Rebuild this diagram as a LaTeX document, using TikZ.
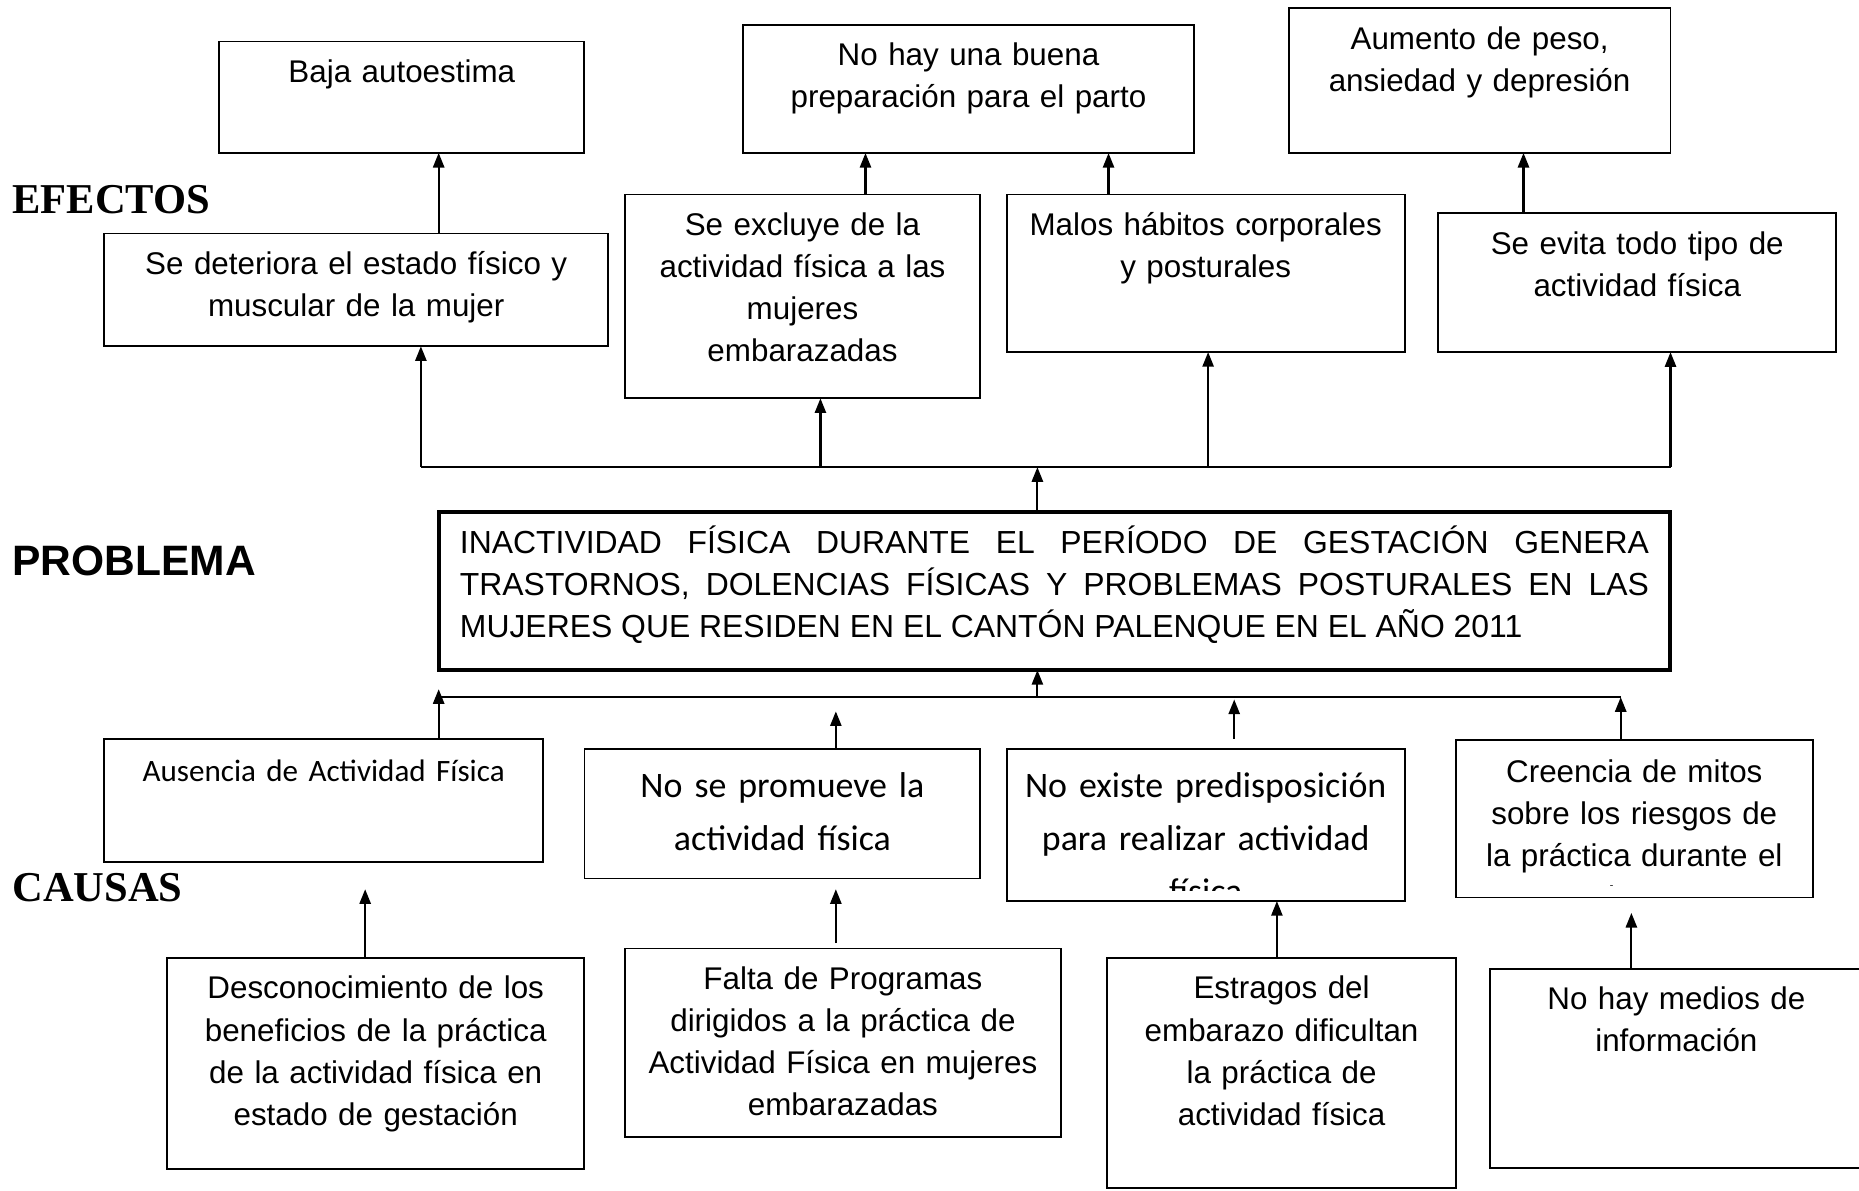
\documentclass[tikz,border=0pt]{standalone}
\usepackage{fontspec}
\setmainfont{Liberation Sans}
\newfontfamily\fuenteArial{Liberation Sans}
\newfontfamily\fuenteCalibri{Carlito}
\newfontfamily\fuenteTimes{Liberation Serif}
\usetikzlibrary{arrows.meta}

\begin{document}
\begin{tikzpicture}[x=0.446pt, y=-0.446pt, >={Triangle[length=5.5pt,width=4.2pt]}]
  \tikzstyle{caja}=[draw=black, line width=0.7pt, rectangle, anchor=north west, inner xsep=2.2pt, inner ysep=0pt, outer sep=0pt, align=center, text height=15.4pt, font=\fuenteArial\fontsize{11.8}{15.84}\selectfont]
  \tikzstyle{cajaC}=[caja, text height=18.3pt, font=\fuenteCalibri\fontsize{13.5}{19.8}\selectfont]
  \tikzstyle{titulo}=[anchor=base west, inner sep=0pt]
  \tikzstyle{flecha}=[->, line width=0.8pt]
  \tikzstyle{linea}=[line width=0.8pt]

  \useasboundingbox (0,0) rectangle (1568,1004);

  % titles
  \node[titulo, font=\fuenteTimes\fontsize{16}{19}\selectfont\bfseries] (efectos) at (10,180) {EFECTOS};
  \node[titulo, font=\fuenteArial\fontsize{16}{19}\selectfont\bfseries] (tproblema) at (10,485) {PROBLEMA};
  \node[titulo, font=\fuenteTimes\fontsize{16}{19}\selectfont\bfseries] (causas) at (10,760) {CAUSAS};

  % effects
  \node[caja, text width=132.9pt, text depth=26.5pt] (baja) at (185,35) {Baja autoestima};
  \node[caja, text width=165.0pt, text depth=32.8pt] (parto) at (627,21) {No hay una buena\\preparación para el parto};
  \node[caja, text width=139.2pt, text depth=39.0pt] (peso) at (1087,7) {Aumento de peso,\\ansiedad y depresión};

  \node[caja, text width=185.1pt, text depth=27.0pt] (deterioro) at (88,197) {Se deteriora el estado físico y\\muscular de la mujer};
  \node[caja, text width=129.3pt, text depth=61.3pt] (excluye) at (527,164) {Se excluye de la\\actividad física a las\\mujeres\\embarazadas};
  \node[caja, text width=145.4pt, text depth=43.9pt] (habitos) at (849,164) {Malos hábitos corporales\\y posturales};
  \node[caja, text width=145.4pt, text depth=36.8pt] (evita) at (1213,180) {Se evita todo tipo de\\actividad física};

  % problem
  \node[caja, line width=1.4pt, align=justify, text width=447.3pt, inner xsep=8pt, text height=15.6pt, text depth=43.8pt, font=\fuenteArial\fontsize{12}{15.7}\selectfont] (problema) at (370,432) {INACTIVIDAD FÍSICA DURANTE EL PERÍODO DE GESTACIÓN GENERA\linebreak TRASTORNOS, DOLENCIAS FÍSICAS Y PROBLEMAS POSTURALES EN LAS\linebreak MUJERES QUE RESIDEN EN EL CANTÓN PALENQUE EN EL AÑO 2011};

  % causes
  \node[cajaC, text height=16.0pt, text width=160.6pt, text depth=30.3pt, font=\fuenteCalibri\fontsize{11.7}{16.5}\selectfont] (ausencia) at (88,623) {Ausencia de Actividad Física};
  \node[cajaC, text width=144.5pt, text depth=30.3pt] (promueve) at (493,632) {No se promueve la\\actividad física};
  % text cut off at the bottom of the box
  \begin{scope}
    \clip (849,632) rectangle (1185,751) (1228,624) rectangle (1529,747);
    \node[cajaC, draw=none, text width=145.4pt, text depth=38.8pt] (noexiste) at (849,632) {No existe predisposición\\para realizar actividad\\física};
    \node[caja, draw=none, text width=129.8pt, text height=16.0pt, text depth=43.3pt] (creencia) at (1228,624) {Creencia de mitos\\sobre los riesgos de\\la práctica durante el\\embarazo};
  \end{scope}
  \draw[line width=0.7pt] (noexiste.north west) rectangle (noexiste.south east);
  \draw[line width=0.7pt] (creencia.north west) rectangle (creencia.south east);

  \node[caja, text width=152.5pt, text depth=64.0pt] (desconoc) at (141,808) {Desconocimiento de los\\beneficios de la práctica\\de la actividad física en\\estado de gestación};
  \node[caja, text width=159.7pt, text depth=55.5pt] (falta) at (527,800) {Falta de Programas\\dirigidos a la práctica de\\Actividad Física en mujeres\\embarazadas};
  \node[caja, text width=126.7pt, text depth=71.1pt] (estragos) at (934,808) {Estragos del\\embarazo dificultan\\la práctica de\\actividad física};
  \node[caja, text width=135.6pt, text depth=59.5pt] (medios) at (1257,817) {No hay medios de\\información};

  % edges
  \draw[flecha] (deterioro.north -| 370,0) -- (baja.south -| 370,0);
  \draw[flecha] (excluye.north -| 730,0) -- (parto.south -| 730,0);
  \draw[flecha] (habitos.north -| 935,0) -- (parto.south -| 935,0);
  \draw[flecha] (evita.north -| 1285,0) -- (peso.south -| 1285,0);

  \coordinate (be0) at (875,394);
  \coordinate (be1) at (355,394);
  \coordinate (be2) at (692,394);
  \coordinate (be3) at (1019,394);
  \coordinate (be4) at (1409,394);
  \draw[linea] (be1) -- (be4);
  \draw[flecha] (be0 |- problema.north) -- (be0);
  \draw[flecha] (be1) -- (be1 |- deterioro.south);
  \draw[flecha] (be2) -- (be2 |- excluye.south);
  \draw[flecha] (be3) -- (be3 |- habitos.south);
  \draw[flecha] (be4) -- (be4 |- evita.south);

  \coordinate (bc0) at (875,588);
  \coordinate (bc1) at (370,588);
  \coordinate (bc4) at (1367,588);
  \draw[linea] (bc1) -- (bc4);
  \draw[flecha] (bc0) -- (bc0 |- problema.south);
  \draw[flecha, shorten >=-3pt] (bc1 |- ausencia.north) -- (bc1);
  \coordinate (pc2) at (705,600);
  \draw[flecha] (pc2 |- promueve.north) -- (pc2);
  \coordinate (pc3) at (1041,590);
  \draw[flecha, shorten <=4pt] (pc3 |- noexiste.north) -- (pc3);
  \draw[flecha] (bc4 |- creencia.north) -- (bc4);

  \coordinate (pd1) at (308,750);
  \draw[flecha] (pd1 |- desconoc.north) -- (pd1);
  \coordinate (pd2) at (705,750);
  \draw[flecha, shorten <=2pt] (pd2 |- falta.north) -- (pd2);
  \draw[flecha] (estragos.north -| 1077,0) -- (noexiste.south -| 1077,0);
  \coordinate (pd4) at (1376,770);
  \draw[flecha] (pd4 |- medios.north) -- (pd4);

\end{tikzpicture}
\end{document}
